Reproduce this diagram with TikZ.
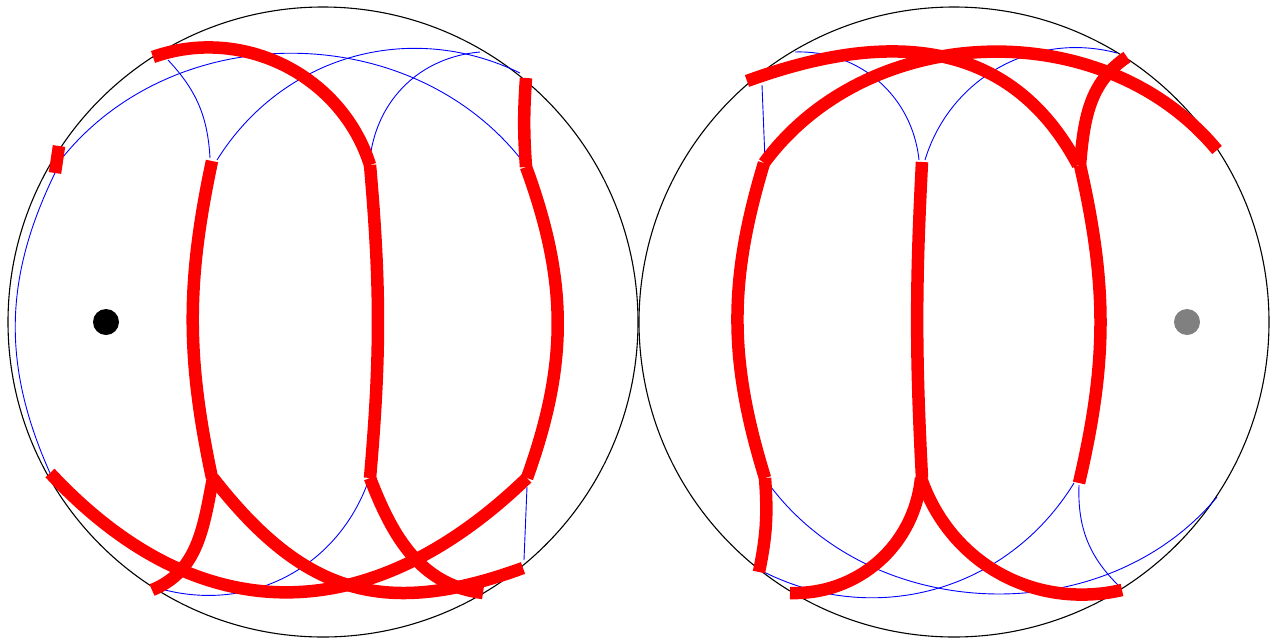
\documentclass[tikz,border=0pt]{standalone}
\usepackage{tikz}

\begin{document}
\begin{tikzpicture}[x=1pt,y=-1pt,
  rim/.style={line width=1.1pt},
  seam/.style={red,line width=12.5pt},
  geod/.style={blue,line width=0.9pt}]
\useasboundingbox (0,0) rectangle (1277,643);
% Left disk
\draw[rim] (323,322) circle (315);
\draw[geod] (55,173) to[bend right=25] (50,473);
\draw[geod] (168,60) to[bend left=20] (210,158);
\draw[geod] (63,157) to[bend left=51] (520,158);
\draw[geod] (217,160) to[bend left=42] (520,73);
\draw[geod] (370,158) to[bend left=39] (480,52);
\draw[geod] (527,487) -- (524,560);
\draw[geod] (368,482) to[bend left=42] (165,590);
\draw[seam] (59,146) -- (55,173);
\draw[seam] (153,57) to[bend left=46] (370,165);
\draw[seam] (212,161) to[bend right=12] (212,478);
\draw[seam] (370,165) to[bend left=5] (370,478);
\draw[seam] (526,78) to[bend right=4] (526,167);
\draw[seam] (526,167) to[bend left=20] (527,478);
\draw[seam] (213,478) to[out=-101,in=22] (152,590);
\draw[seam] (50,473) to[out=-47,in=-136,looseness=1.17] (527,478);
\draw[seam] (213,478) to[out=-52,in=200,looseness=1.17] (523,568);
\draw[seam] (370,478) to[out=-69,in=173] (483,593);
\fill (106,322) circle (13);

% Right disk
\draw[rim] (954,322) circle (315);
\draw[geod] (762,85) -- (765,160);
\draw[geod] (795,52) to[bend left=43] (919,160);
\draw[geod] (925,160) to[bend left=44] (1117,53);
\draw[geod] (768,483) to[bend right=52] (1217,497);
\draw[geod] (760,570) to[bend right=43] (1074,483);
\draw[geod] (1079,485) to[bend right=24] (1120,587);
\draw[seam] (747,81) to[out=20,in=118,looseness=1.1] (1078,165);
\draw[seam] (764,163) to[bend left=52] (1217,150);
\draw[seam] (1127,57) to[out=214,in=85] (1080,165);
\draw[seam] (1080,165) to[bend left=13] (1079,483);
\draw[seam] (922,162) to[bend right=3] (922,478);
\draw[seam] (764,163) to[bend right=17] (765,478);
\draw[seam] (765,478) to[bend left=8] (759,572);
\draw[seam] (921,478) to[bend left=43] (790,593);
\draw[seam] (921,478) to[bend right=42] (1122,590);
\fill[gray] (1187,322) circle (13);
\end{tikzpicture}
\end{document}
